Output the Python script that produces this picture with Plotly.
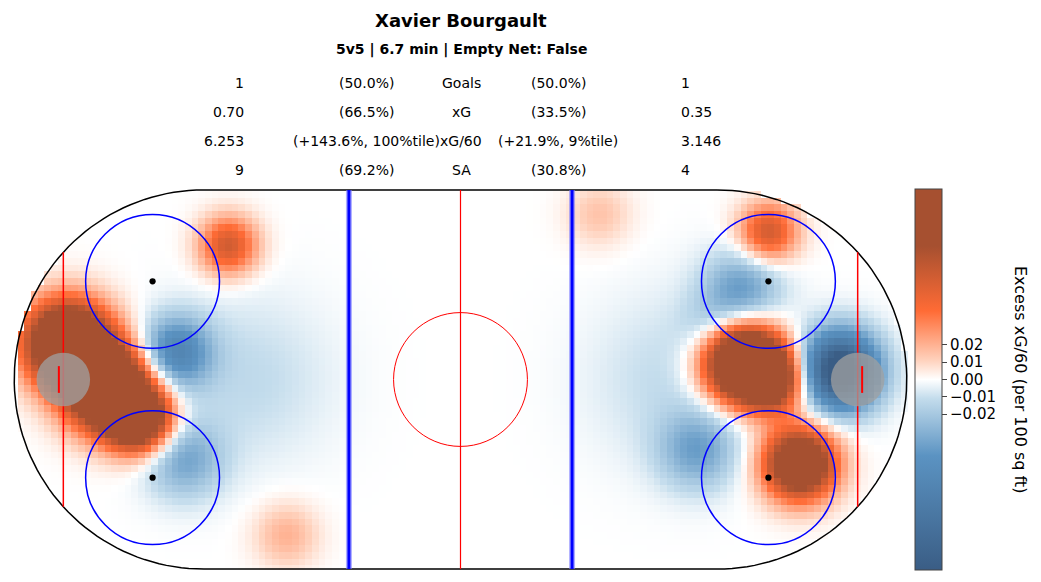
import numpy as np
import plotly.graph_objects as go

# ---- data ----
title = "Xavier Bourgault"
subtitle = "5v5 | 6.7 min | Empty Net: False"
row_labels = ["Goals", "xG", "xG/60", "SA"]
left_vals = ["1", "0.70", "6.253", "9"]
left_pct = ["(50.0%)", "(66.5%)", "(+143.6%, 100%tile)", "(69.2%)"]
right_pct = ["(50.0%)", "(33.5%)", "(+21.9%, 9%tile)", "(30.8%)"]
right_vals = ["1", "0.35", "3.146", "4"]

# hot/cold zones (ft): centre x, centre y, amplitude, spread
blob_x = [-88, -79, -72, -64, -62, -52, -39, 31, 63, 70, 76, 85, 69, 53, 63, 57, -48, 48]
blob_y = [8, -2, -9, 6, -18, 30, -35, 37, 4, 0, -19, 2, 33, -16, 20, 11, 0, 0]
blob_amp = [0.16, 0.16, 0.12, -0.06, -0.035, 0.06, 0.02, 0.015, 0.16, 0.1, 0.13, -0.13, 0.06, -0.035, -0.04, -0.02, -0.012, -0.012]
blob_sig = [6.5, 6.5, 5, 5.5, 6, 4.5, 5, 5, 6, 5, 5.5, 6, 4.5, 6, 6, 5, 13, 13]

cb_ticks = [0.02, 0.01, 0.0, -0.01, -0.02]
cb_text = ["0.02", "0.01", "0.00", "\u22120.01", "\u22120.02"]

# ---- field ----
gx = np.arange(-100, 100.01, 1.5)
gy = np.arange(-42.5, 42.51, 1.5)
X, Y = np.meshgrid(gx, gy)
Z = np.zeros_like(X)
for bx, by, a, s in zip(blob_x, blob_y, blob_amp, blob_sig):
    Z += a * np.exp(-((X - bx) ** 2 + (Y - by) ** 2) / (2 * s * s))
R = 42.5
inside = (np.abs(X) <= 57.5) | ((np.abs(X) - 57.5) ** 2 + Y ** 2 <= R * R)
Z = np.where(inside, Z, np.nan)

cscale = [[0, "#3a5d85"], [0.3, "#5b93c2"], [0.45, "#c3dcec"], [0.5, "#ffffff"],
          [0.55, "#ffd2bd"], [0.68, "#ff6b35"], [0.85, "#a65030"], [1, "#a65030"]]

fig = go.Figure()
fig.add_trace(go.Heatmap(x=gx, y=gy, z=Z, colorscale=cscale, zmin=-0.11, zmax=0.11,
                         hoverinfo="skip",
                         colorbar=dict(x=(915 - 12) / 897, xanchor="left", thickness=27,
                                       len=1, y=0.5, yanchor="middle", outlinewidth=1,
                                       ypad=0, xpad=0,
                                       tickvals=cb_ticks, ticktext=cb_text,
                                       ticks="outside", tickfont=dict(size=15, color="black"))))

# rink outline
t = np.linspace(np.pi / 2, -np.pi / 2, 80)
rx = np.concatenate([57.5 + R * np.cos(t), -57.5 - R * np.cos(t)])
ry = np.concatenate([R * np.sin(t), -R * np.sin(t)])
rx = np.append(rx, rx[0]); ry = np.append(ry, ry[0])
fig.add_trace(go.Scatter(x=rx, y=ry, mode="lines", line=dict(color="black", width=1.5),
                         hoverinfo="skip", showlegend=False))

shapes = []
for gxl in [-89, 89]:
    h = np.sqrt(R * R - (abs(gxl) - 57.5) ** 2)
    shapes.append(dict(type="line", x0=gxl, x1=gxl, y0=-h, y1=h, line=dict(color="red", width=1.5)))
    sgn = -1 if gxl < 0 else 1
    shapes.append(dict(type="circle", x0=gxl - 6, x1=gxl + 6, y0=-6, y1=6,
                       fillcolor="rgba(160,160,160,0.75)", line=dict(width=0), layer="above"))
    shapes.append(dict(type="line", x0=gxl + sgn * 1, x1=gxl + sgn * 1, y0=-3, y1=3, line=dict(color="red", width=2)))
for b in [-25, 25]:
    shapes.append(dict(type="line", x0=b, x1=b, y0=-42.5, y1=42.5, line=dict(color="rgba(120,120,255,0.6)", width=6)))
    shapes.append(dict(type="line", x0=b, x1=b, y0=-42.5, y1=42.5, line=dict(color="blue", width=3)))
shapes.append(dict(type="line", x0=0, x1=0, y0=-42.5, y1=42.5, line=dict(color="red", width=1.2)))
shapes.append(dict(type="circle", x0=-15, x1=15, y0=-15, y1=15, line=dict(color="red", width=1)))
for fx in [-69, 69]:
    for fy in [-22, 22]:
        shapes.append(dict(type="circle", x0=fx - 15, x1=fx + 15, y0=fy - 15, y1=fy + 15,
                           line=dict(color="blue", width=1.5)))
        shapes.append(dict(type="circle", x0=fx - 0.7, x1=fx + 0.7, y0=fy - 0.7, y1=fy + 0.7,
                           fillcolor="black", line=dict(width=0)))
fig.update_layout(shapes=shapes)

def px(x): return (x - 12) / 897
def py(y): return (570 - y) / 381

ann = [dict(text="<b>" + title + "</b>", x=px(461), y=py(20), font=dict(size=18)),
       dict(text="<b>" + subtitle + "</b>", x=px(461), y=py(50), font=dict(size=14))]
rows_y = [83, 112, 141, 170]
for i, yy in enumerate(rows_y):
    ann += [dict(text=left_vals[i], x=px(246), y=py(yy), xanchor="right"),
            dict(text=left_pct[i], x=px(366), y=py(yy)),
            dict(text=row_labels[i], x=px(461), y=py(yy)),
            dict(text=right_pct[i], x=px(558), y=py(yy)),
            dict(text=right_vals[i], x=px(679), y=py(yy), xanchor="left")]
ann.append(dict(text="Excess xG/60 (per 100 sq ft)", x=px(1021), y=py(379), textangle=90,
                font=dict(size=16)))
for a in ann:
    a.setdefault("xanchor", "center")
    a.update(xref="paper", yref="paper", yanchor="middle", showarrow=False)
    a.setdefault("font", dict(size=14))
    a["font"].setdefault("color", "black")
    a["font"]["family"] = "DejaVu Sans"
fig.update_layout(annotations=ann)

fig.update_layout(width=1041, height=582, margin=dict(l=12, r=132, t=189, b=12),
                  paper_bgcolor="white", plot_bgcolor="white",
                  font=dict(family="DejaVu Sans", color="black"),
                  xaxis=dict(range=[-100.5, 100.5], visible=False),
                  yaxis=dict(range=[-42.7, 42.7], visible=False), showlegend=False)
fig.write_html("out.html", config={"displayModeBar": False},
               post_script="document.body.style.margin='0';document.body.style.overflow='hidden';")
